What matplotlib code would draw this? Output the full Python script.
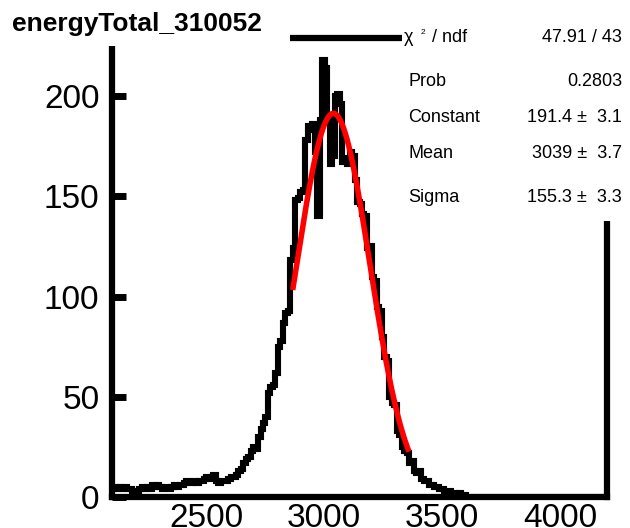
import numpy as np
import matplotlib
matplotlib.use("Agg")
import matplotlib.pyplot as plt
from matplotlib.patches import Rectangle

plt.rcParams['font.family'] = ['Liberation Sans', 'DejaVu Sans']

# histogram: 200 bins from 2100 to 4200
x_lo, x_hi, n_bins = 2100, 4200, 200
counts = [
    4, 5, 4, 5, 4, 5, 4, 4, 2, 3,
    3, 4, 5, 4, 5, 4, 6, 5, 6, 5,
    4, 5, 5, 4, 5, 6, 5, 6, 6, 7,
    8, 7, 7, 8, 7, 8, 8, 9, 10, 9,
    10, 11, 8, 7, 8, 8, 8, 9, 10, 10,
    11, 13, 14, 17, 19, 20, 23, 25, 24, 30,
    34, 37, 40, 52, 55, 56, 62, 75, 78, 87,
    92, 93, 118, 124, 148, 149, 152, 153, 178, 185,
    183, 186, 172, 140, 188, 218, 214, 190, 166, 170,
    200, 201, 196, 167, 169, 166, 172, 170, 158, 147,
    146, 141, 140, 124, 125, 110, 108, 95, 93, 80,
    70, 68, 50, 47, 46, 33, 31, 25, 23, 22,
    17, 18, 13, 12, 13, 9, 8, 8, 6, 6,
    5, 5, 4, 4, 3, 3, 3, 2, 2, 1,
    2, 1, 1, 0, 0, 0, 0, 0, 0, 0,
] + [0] * 50

# gaussian fit result
fit_const, fit_mean, fit_sigma = 191.4, 3039.0, 155.3
fit_lo, fit_hi = 2866.5, 3360.0

stat_names = ["Prob", "Constant", "Mean", "Sigma"]
stat_values = ["0.2803", "191.4 \u00b1  3.1", "3039 \u00b1  3.7", "155.3 \u00b1  3.3"]
chi2_text = "47.91 / 43"

W, H = 630, 528
fig = plt.figure(figsize=(W / 100, H / 100), dpi=100)
ax = fig.add_axes([112 / W, 1 - 497 / H, (607 - 112) / W, (497 - 38) / H])

edges = np.linspace(x_lo, x_hi, n_bins + 1)
ax.stairs(counts, edges, color="black", lw=4.4, baseline=None)

xf = np.linspace(fit_lo, fit_hi, 200)
yf = fit_const * np.exp(-0.5 * ((xf - fit_mean) / fit_sigma) ** 2)
ax.plot(xf, yf, color="red", lw=4.0, solid_capstyle="butt")

ax.set_xlim(x_lo, x_hi)
ax.set_ylim(0, 229)

for s in ax.spines.values():
    s.set_linewidth(4.5)

ax.set_yticks([0, 50, 100, 150, 200])
ax.tick_params(axis="y", direction="in", length=10, width=5, labelsize=24, pad=9)
ax.set_xticks([2500, 3000, 3500, 4000])
ax.set_xticks([3000, 4000], minor=True)
ax.tick_params(axis="x", which="major", direction="in", length=2, width=4, labelsize=24, pad=4)
ax.tick_params(axis="x", which="minor", direction="in", length=10, width=5)


def px(x, y):
    return x / W, 1 - y / H


# title pad and stats box cover the frame like a canvas overlay
fig.add_artist(Rectangle(px(0, 46), 290 / W, 46 / H, transform=fig.transFigure,
                         facecolor="white", edgecolor="none", zorder=5))
fig.add_artist(Rectangle(px(402, 221), (W - 402) / W, 221 / H, transform=fig.transFigure,
                         facecolor="white", edgecolor="none", zorder=5))

fig.text(*px(12, 24), "energyTotal_310052", fontsize=19, fontweight="bold",
         va="center", ha="left", zorder=6)

fig.text(*px(404, 38), "\u03c7", fontsize=13, va="center", zorder=6)
fig.text(*px(421, 33), "2", fontsize=6, va="center", zorder=6)
fig.text(*px(432, 38), "/ ndf", fontsize=13, va="center", zorder=6)
fig.text(*px(622, 38), chi2_text, fontsize=13, va="center", ha="right", zorder=6)

rows_y = [82, 117, 153, 197]
for name, val, y in zip(stat_names, stat_values, rows_y):
    fig.text(*px(408, y), name, fontsize=13, va="center", ha="left", zorder=6)
    fig.text(*px(622, y), val, fontsize=13, va="center", ha="right", zorder=6)

fig.savefig("out.png", dpi=100)
